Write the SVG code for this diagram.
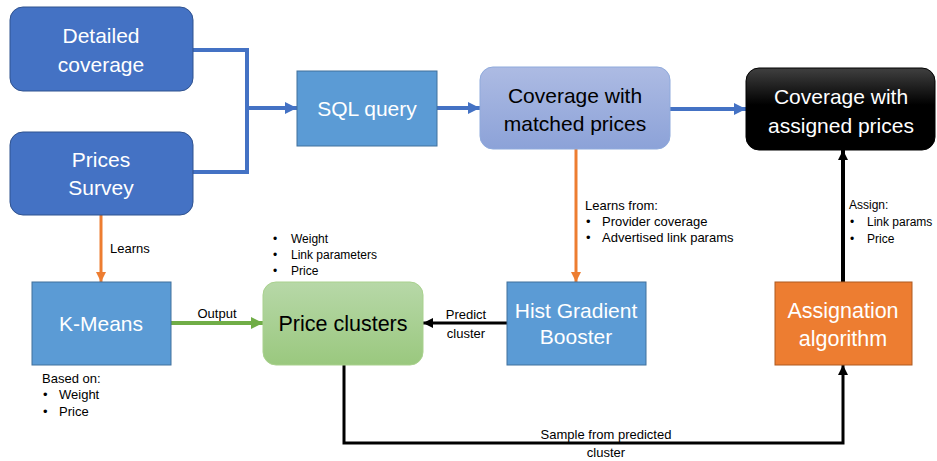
<svg xmlns="http://www.w3.org/2000/svg" width="937" height="461" viewBox="0 0 937 461">
  <style>
    .lbl { font-family: "Liberation Sans", Arial, sans-serif; font-size: 21px; text-anchor: middle; fill: #ffffff; }
    .dark { fill: #000000; }
    .note { font-family: "Liberation Sans", Arial, sans-serif; font-size: 13px; fill: #000000; }
    .small { font-size: 12px; }
    .mid { text-anchor: middle; }
    .blue { fill: none; stroke: #4472c4; stroke-width: 4; }
    .orange { fill: none; stroke: #ed7d31; stroke-width: 3; }
    .black { fill: none; stroke: #000000; stroke-width: 3; }
  </style>
  <defs>
    <linearGradient id="gPurple" x1="0" y1="0" x2="0" y2="1">
      <stop offset="0" stop-color="#adbbe3"/>
      <stop offset="1" stop-color="#8ca2d8"/>
    </linearGradient>
    <linearGradient id="gBlack" x1="0" y1="0" x2="0" y2="1">
      <stop offset="0" stop-color="#404040"/>
      <stop offset="0.45" stop-color="#000000"/>
      <stop offset="1" stop-color="#000000"/>
    </linearGradient>
    <linearGradient id="gGreen" x1="0" y1="0" x2="0" y2="1">
      <stop offset="0" stop-color="#b7d8a8"/>
      <stop offset="1" stop-color="#9ac87e"/>
    </linearGradient>
    <marker id="aBlue" markerUnits="userSpaceOnUse" markerWidth="14" markerHeight="14" refX="12" refY="7" orient="auto">
      <path d="M0,1 L12,7 L0,13 z" fill="#4472c4"/>
    </marker>
    <marker id="aOrange" markerUnits="userSpaceOnUse" markerWidth="12" markerHeight="12" refX="10" refY="6" orient="auto">
      <path d="M0,1 L10,6 L0,11 z" fill="#ed7d31"/>
    </marker>
    <marker id="aGreen" markerUnits="userSpaceOnUse" markerWidth="14" markerHeight="14" refX="12" refY="7" orient="auto">
      <path d="M0,1 L12,7 L0,13 z" fill="#70ad47"/>
    </marker>
    <marker id="aBlack" markerUnits="userSpaceOnUse" markerWidth="12" markerHeight="12" refX="10" refY="6" orient="auto">
      <path d="M0,1 L10,6 L0,11 z" fill="#000000"/>
    </marker>
  </defs>

  <g id="connectors">
    <!-- source merge into SQL query -->
    <polyline class="blue" points="193,50 247,50 247,172 193,172"/>
    <line class="blue" x1="247" y1="108" x2="297" y2="108" marker-end="url(#aBlue)"/>
    <line class="blue" x1="437" y1="108" x2="480" y2="108" marker-end="url(#aBlue)"/>
    <line class="blue" x1="670" y1="109" x2="746" y2="109" marker-end="url(#aBlue)"/>
    <!-- learning links -->
    <line class="orange" x1="101" y1="215" x2="101" y2="282" marker-end="url(#aOrange)"/>
    <line class="orange" x1="576" y1="149" x2="576" y2="282" marker-end="url(#aOrange)"/>
    <!-- K-Means output -->
    <line x1="171" y1="323" x2="263" y2="323" stroke="#70ad47" stroke-width="4" marker-end="url(#aGreen)"/>
    <!-- prediction -->
    <line class="black" x1="507" y1="323" x2="423" y2="323" marker-end="url(#aBlack)"/>
    <!-- sampling path -->
    <polyline class="black" points="344,365 344,443 843,443 843,365" marker-end="url(#aBlack)"/>
    <!-- assignment -->
    <line x1="843" y1="282" x2="843" y2="150" stroke="#000000" stroke-width="4" marker-end="url(#aBlack)"/>
  </g>

  <g id="detailed-coverage">
    <rect x="10" y="7" width="183" height="84" rx="13" fill="#4472c4" stroke="#2f528f" stroke-width="1"/>
    <text class="lbl" x="101" y="43">Detailed</text>
    <text class="lbl" x="101" y="72">coverage</text>
  </g>

  <g id="prices-survey">
    <rect x="10" y="132" width="183" height="83" rx="13" fill="#4472c4" stroke="#2f528f" stroke-width="1"/>
    <text class="lbl" x="101" y="167">Prices</text>
    <text class="lbl" x="101" y="195">Survey</text>
  </g>

  <g id="sql-query">
    <rect x="297" y="71" width="140" height="75" fill="#5b9bd5" stroke="#41719c" stroke-width="1"/>
    <text class="lbl" x="367" y="116">SQL query</text>
  </g>

  <g id="coverage-matched">
    <rect x="480" y="67" width="190" height="82" rx="13" fill="url(#gPurple)" stroke="#8faadc" stroke-width="1"/>
    <text class="lbl dark" x="575" y="103">Coverage with</text>
    <text class="lbl dark" x="575" y="131">matched prices</text>
  </g>

  <g id="coverage-assigned">
    <rect x="746" y="68" width="189" height="82" rx="13" fill="url(#gBlack)" stroke="#000000" stroke-width="1"/>
    <text class="lbl" x="841" y="104">Coverage with</text>
    <text class="lbl" x="841" y="133">assigned prices</text>
  </g>

  <g id="k-means">
    <rect x="32" y="282" width="139" height="83" fill="#5b9bd5" stroke="#41719c" stroke-width="1"/>
    <text class="lbl" x="101" y="331">K-Means</text>
  </g>

  <g id="price-clusters">
    <rect x="263" y="282" width="160" height="83" rx="13" fill="url(#gGreen)" stroke="#a9d18e" stroke-width="1"/>
    <text class="lbl dark" x="343" y="331" style="font-size:21.5px">Price clusters</text>
  </g>

  <g id="hist-gradient-booster">
    <rect x="507" y="282" width="139" height="83" fill="#5b9bd5" stroke="#41719c" stroke-width="1"/>
    <text class="lbl" x="576" y="318">Hist Gradient</text>
    <text class="lbl" x="576" y="344">Booster</text>
  </g>

  <g id="assignation-algorithm">
    <rect x="775" y="282" width="137" height="83" fill="#ed7d31" stroke="#ae5a21" stroke-width="1"/>
    <text class="lbl" x="843" y="318" style="font-size:21.5px">Assignation</text>
    <text class="lbl" x="843" y="346" style="font-size:21.5px">algorithm</text>
  </g>

  <g id="labels">
    <text class="note" x="110" y="253">Learns</text>
    <text class="note mid" x="217" y="318">Output</text>
    <text class="note" x="42" y="383">Based on:</text>
    <text class="note" x="43" y="399">•</text><text class="note" x="59" y="399">Weight</text>
    <text class="note" x="43" y="416">•</text><text class="note" x="59" y="416">Price</text>

    <text class="note small" x="273" y="243">•</text><text class="note small" x="291" y="243">Weight</text>
    <text class="note small" x="273" y="259">•</text><text class="note small" x="291" y="259">Link parameters</text>
    <text class="note small" x="273" y="275">•</text><text class="note small" x="291" y="275">Price</text>

    <text class="note mid" x="466" y="319">Predict</text>
    <text class="note mid" x="466" y="338">cluster</text>

    <text class="note" x="585" y="210">Learns from:</text>
    <text class="note" x="586" y="226">•</text><text class="note" x="602" y="226">Provider coverage</text>
    <text class="note" x="586" y="242">•</text><text class="note" x="602" y="242">Advertised link params</text>

    <text class="note small" x="849" y="209">Assign:</text>
    <text class="note small" x="850" y="226">•</text><text class="note small" x="867" y="226">Link params</text>
    <text class="note small" x="850" y="243">•</text><text class="note small" x="867" y="243">Price</text>

    <text class="note mid" x="606" y="439">Sample from predicted</text>
    <text class="note mid" x="606" y="457">cluster</text>
  </g>
</svg>
